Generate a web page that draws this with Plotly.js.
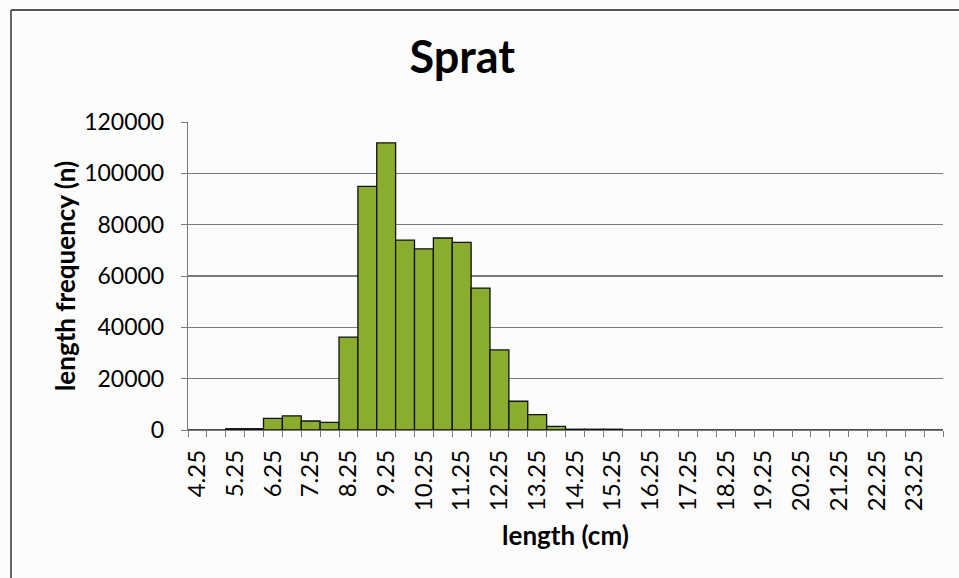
<!DOCTYPE html>
<html>
<head>
<meta charset="utf-8">
<script src="https://cdn.plot.ly/plotly-3.0.1.min.js"></script>
<style>
html,body{margin:0;padding:0;background:#fcfcfc;}
#chart{width:959px;height:578px;}
</style>
</head>
<body>
<div id="chart"></div>
<script>
// Length classes (cm), 0.5 cm bins
var lengths = [4.25, 4.75, 5.25, 5.75, 6.25, 6.75, 7.25, 7.75, 8.25, 8.75,
               9.25, 9.75, 10.25, 10.75, 11.25, 11.75, 12.25, 12.75, 13.25, 13.75,
               14.25, 14.75, 15.25, 15.75, 16.25, 16.75, 17.25, 17.75, 18.25, 18.75,
               19.25, 19.75, 20.25, 20.75, 21.25, 21.75, 22.25, 22.75, 23.25, 23.75];
// Length frequency (n)
var frequency = [0, 0, 500, 500, 4500, 5500, 3500, 3000, 36200, 94900,
                 111900, 74000, 70600, 74800, 73100, 55300, 31200, 11200, 6000, 1400,
                 300, 300, 300, 0, 0, 0, 0, 0, 0, 0,
                 0, 0, 0, 0, 0, 0, 0, 0, 0, 0];
// Labelled ticks on the x axis
var xTickLabels = ["4.25", "5.25", "6.25", "7.25", "8.25", "9.25", "10.25", "11.25", "12.25", "13.25",
                   "14.25", "15.25", "16.25", "17.25", "18.25", "19.25", "20.25", "21.25", "22.25", "23.25"];
// Y axis ticks
var yTickVals = [0, 20000, 40000, 60000, 80000, 100000, 120000];
var yTickLabels = ["0", "20000", "40000", "60000", "80000", "100000", "120000"];

var FONT = "Lato, 'Open Sans', sans-serif";
var GRID = "#7a7a7a";

var trace = {
  type: "bar",
  x: lengths,
  y: frequency,
  width: 0.5,
  marker: {color: "#8aad2f", line: {color: "#111111", width: 1.3}},
  hoverinfo: "x+y"
};
// invisible helper trace to carry boundary ticks on xaxis2
var tickTrace = {
  type: "scatter", mode: "markers",
  x: [lengths[0]], y: [0], xaxis: "x2",
  marker: {opacity: 0}, showlegend: false, hoverinfo: "skip"
};

var W = 959, H = 578, L = 188, R = 943, T = 122, B = 430;
function px(x){ return (x - L) / (R - L); }
function py(y){ return (B - y) / (B - T); }

var layout = {
  width: W, height: H,
  margin: {l: L, r: W - R, t: T, b: H - B, pad: 0},
  paper_bgcolor: "#fcfcfc",
  plot_bgcolor: "#fcfcfc",
  showlegend: false,
  bargap: 0,
  title: {
    text: "<b>Sprat</b>",
    font: {family: FONT, size: 45, color: "#000"},
    xref: "container", x: 0.482, xanchor: "center",
    yref: "container", y: 1 - 57 / H, yanchor: "middle"
  },
  xaxis: {
    type: "linear",
    range: [4.0, 24.0],
    tickmode: "array",
    tickvals: xTickLabels.map(parseFloat),
    ticktext: xTickLabels,
    tickangle: -90,
    ticks: "outside", ticklen: 9, tickcolor: "rgba(0,0,0,0)",
    tickfont: {family: FONT, size: 24, color: "#000"},
    showgrid: false, zeroline: false,
    showline: true, linecolor: GRID, linewidth: 1.3,
    title: {text: "<b>length (cm)</b>", font: {family: FONT, size: 26, color: "#000"}, standoff: 16},
    fixedrange: true
  },
  xaxis2: {
    overlaying: "x", matches: "x", side: "bottom", anchor: "y",
    range: [4.0, 24.0],
    tickmode: "linear", tick0: 4.0, dtick: 0.5,
    ticks: "outside", ticklen: 6, tickcolor: GRID, tickwidth: 1,
    showticklabels: false, showgrid: false, zeroline: false, showline: false
  },
  yaxis: {
    range: [0, 120000],
    tickmode: "array", tickvals: yTickVals, ticktext: yTickLabels,
    ticks: "outside", ticklen: 6, tickcolor: GRID,
    ticklabelstandoff: 12,
    tickfont: {family: FONT, size: 23, color: "#000"},
    showgrid: true, gridcolor: GRID, gridwidth: 1.2,
    zeroline: false,
    showline: true, linecolor: GRID, linewidth: 1.2,
    title: {text: "<b>length frequency (n)</b>", font: {family: FONT, size: 26, color: "#000"}, standoff: 1},
    fixedrange: true
  },
  shapes: [
    {type: "line", xref: "paper", yref: "paper", x0: px(11), x1: px(965), y0: py(10), y1: py(10),
     line: {color: "#555", width: 2}},
    {type: "line", xref: "paper", yref: "paper", x0: px(11), x1: px(11), y0: py(10), y1: py(580),
     line: {color: "#666", width: 2}}
  ]
};

Plotly.newPlot("chart", [trace, tickTrace], layout, {displayModeBar: false, staticPlot: true});
</script>
</body>
</html>
